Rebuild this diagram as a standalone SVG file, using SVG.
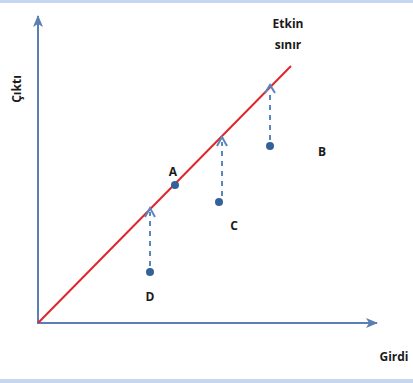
<svg xmlns="http://www.w3.org/2000/svg" width="413" height="383" viewBox="0 0 413 383">
<style>
.lbl{font-family:"Open Sans","Liberation Sans",sans-serif;font-weight:bold;font-size:12px;fill:#1a1a1a}
.axis{stroke:#5b7fb5;stroke-width:2;fill:none}
.dash{stroke:#5b86bd;stroke-width:2;stroke-dasharray:5 5;fill:none}
.chev{stroke:#5b86bd;stroke-width:2;fill:none}
.pt{fill:#35619b}
</style>
<defs>
<marker id="ah" viewBox="0 0 12 10" refX="11" refY="5" markerWidth="12" markerHeight="10" markerUnits="userSpaceOnUse" orient="auto">
<path d="M0,0 L12,5 L0,10 L3,5 Z" fill="#5b7fb5"/>
</marker>
</defs>
<rect x="0" y="0" width="413" height="383" fill="#ffffff"/>
<rect x="0" y="0" width="413" height="3" fill="#c6d6ee"/>
<rect x="0" y="379" width="413" height="4" fill="#c6d6ee"/>
<g id="connectors">
<line class="axis" x1="38" y1="324" x2="38" y2="16" marker-end="url(#ah)"/>
<line class="axis" x1="37" y1="323" x2="377" y2="323" marker-end="url(#ah)"/>
<line x1="38" y1="323" x2="291" y2="66" stroke="#e0262b" stroke-width="2"/>
<line class="dash" x1="150" y1="266" x2="150" y2="212"/>
<path class="chev" d="M145,217 L150,208 L155,217"/>
<line class="dash" x1="222" y1="196" x2="222" y2="142"/>
<path class="chev" d="M217,146 L222,137 L227,146"/>
<line class="dash" x1="270" y1="140" x2="270" y2="90"/>
<path class="chev" d="M265,93 L270,85 L275,93"/>
</g>
<g id="A"><circle class="pt" cx="175" cy="185" r="4"/><text class="lbl" x="173" y="176" text-anchor="middle">A</text></g>
<g id="B"><circle class="pt" cx="270" cy="146" r="4"/><text class="lbl" x="322" y="156" text-anchor="middle">B</text></g>
<g id="C"><circle class="pt" cx="219" cy="202" r="4"/><text class="lbl" x="234" y="230" text-anchor="middle">C</text></g>
<g id="D"><circle class="pt" cx="150" cy="272" r="4"/><text class="lbl" x="150" y="301" text-anchor="middle">D</text></g>
<g id="frontier"><text class="lbl" x="288" y="28" text-anchor="middle">Etkin</text><text class="lbl" x="288" y="49" text-anchor="middle">sınır</text></g>
<g id="ylabel"><text class="lbl" transform="translate(21,89) rotate(-90)" text-anchor="middle">Çıktı</text></g>
<g id="xlabel"><text class="lbl" x="394" y="361" text-anchor="middle">Girdi</text></g>
</svg>
